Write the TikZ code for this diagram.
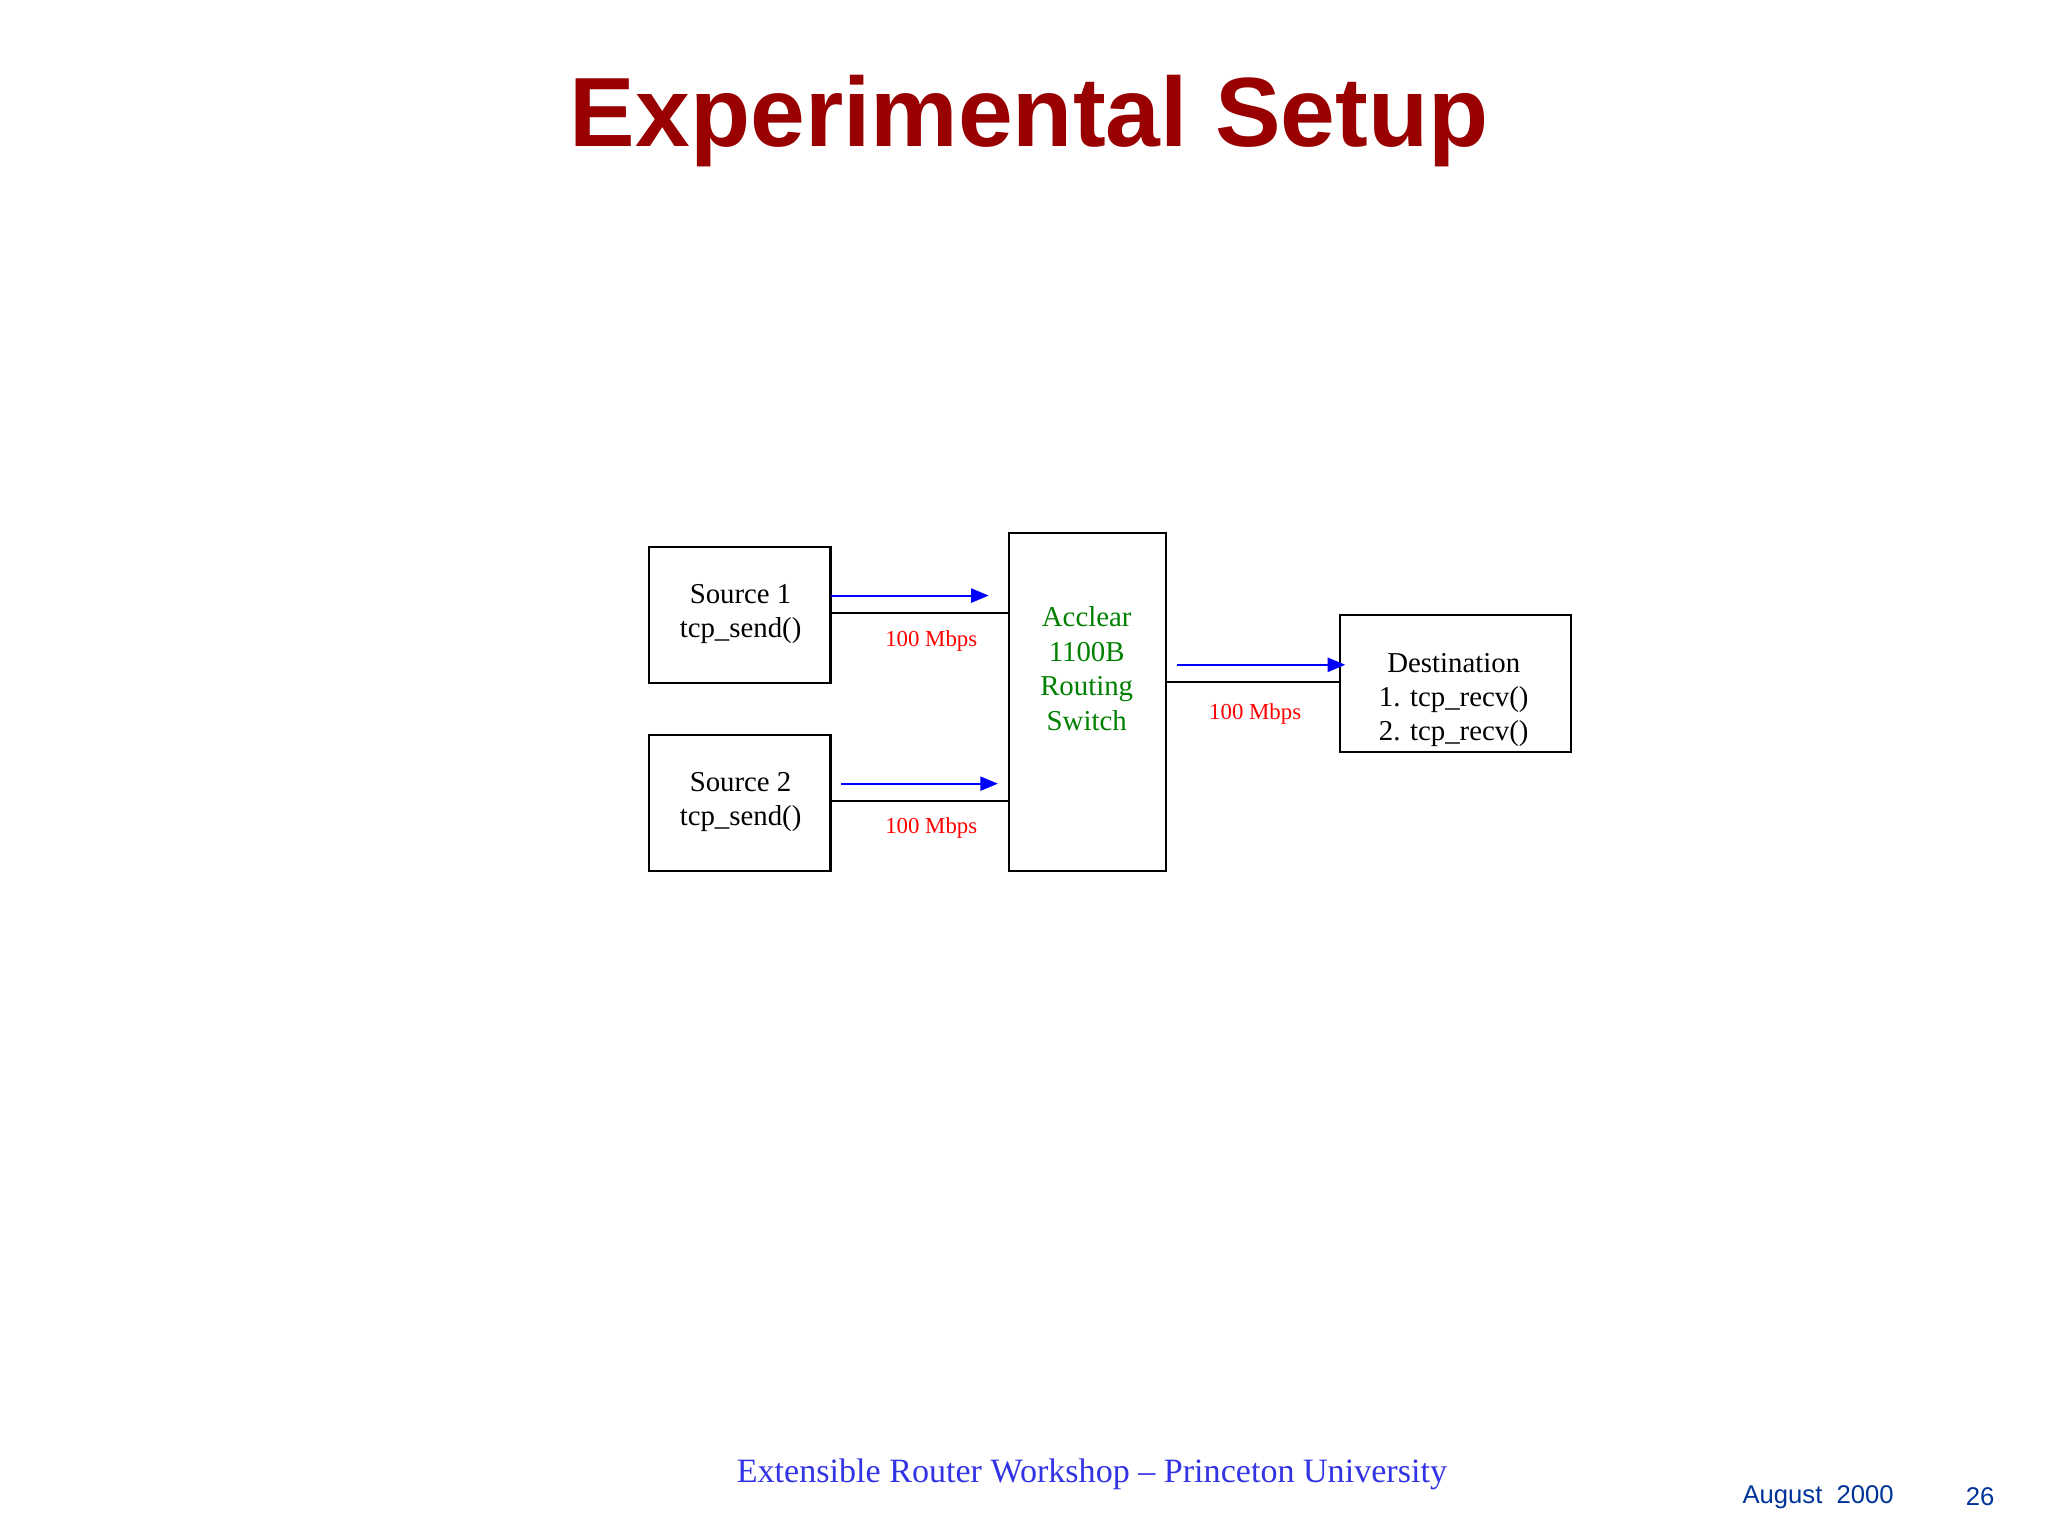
\documentclass[tikz,border=0pt]{standalone}
\usepackage{fontspec}
\setmainfont{Liberation Serif}
\newfontfamily\arial{Liberation Sans}
\usetikzlibrary{arrows.meta}
\definecolor{titlered}{RGB}{153,0,0}
\definecolor{footblue}{RGB}{51,51,230}
\definecolor{dateblue}{RGB}{0,51,153}
\definecolor{swgreen}{RGB}{0,128,0}
\tikzset{
  box/.style={draw,line width=0.6pt,anchor=north west,inner sep=0pt,align=center},
  bx/.style={font=\fontsize{8.2}{9.8}\selectfont,align=center},
  rate/.style={text=red,font=\fontsize{6.5}{7.5}\selectfont},
  link/.style={line width=0.6pt},
  flow/.style={blue,line width=0.6pt,-{Triangle[length=5pt,width=4pt]}}
}
\begin{document}
\begin{tikzpicture}[x=0.013061cm,y=-0.013061cm]
\useasboundingbox (0,0) rectangle (1568,1176);
\node[font=\arial\bfseries\fontsize{28}{32}\selectfont,text=titlered] (title) at (788,93) {Experimental Setup};
\node[box,minimum width=139*0.13061mm,minimum height=104*0.13061mm] (s1) at (496,418) {};
\node[bx] (s1t) at (567,470) {Source 1\\tcp\_send()};
\node[box,minimum width=139*0.13061mm,minimum height=104*0.13061mm] (s2) at (496,562) {};
\node[bx] (s2t) at (567,614) {Source 2\\tcp\_send()};
\node[box,minimum width=120*0.13061mm,minimum height=259*0.13061mm] (sw) at (772,407) {};
\node[bx,text=swgreen] (swt) at (832,512) {Acclear\\1100B\\Routing\\Switch};
\node[box,minimum width=177*0.13061mm,minimum height=105*0.13061mm] (d) at (1025,470) {};
\node[bx] (dt) at (1113,536) {Destination\\1. tcp\_recv()\\2. tcp\_recv()};
\coordinate (a1) at (635,469); \coordinate (b1) at (772,469);
\coordinate (a2) at (635,613); \coordinate (b2) at (772,613);
\coordinate (a3) at (892,522); \coordinate (b3) at (1025,522);
\draw[link] (a1) -- (b1);
\draw[link] (a2) -- (b2);
\draw[link] (a3) -- (b3);
\coordinate (f1s) at (636,456); \coordinate (f1e) at (757,456);
\coordinate (f2s) at (644,600); \coordinate (f2e) at (764,600);
\coordinate (f3s) at (901,509); \coordinate (f3e) at (1030,509);
\draw[flow] (f1s) -- (f1e);
\draw[flow] (f2s) -- (f2e);
\draw[flow] (f3s) -- (f3e);
\node[rate] (r1) at (713,491) {100 Mbps};
\node[rate] (r2) at (713,634) {100 Mbps};
\node[rate] (r3) at (961,547) {100 Mbps};
\node[text=footblue,font=\fontsize{9.7}{12}\selectfont] (foot) at (836,1129) {Extensible Router Workshop -- Princeton University};
\node[text=dateblue,font=\arial\fontsize{7.3}{9}\selectfont] (date) at (1392,1146) {August\ \ 2000};
\node[text=dateblue,font=\arial\fontsize{7.3}{9}\selectfont] (pg) at (1516,1146) {26};
\end{tikzpicture}
\end{document}
